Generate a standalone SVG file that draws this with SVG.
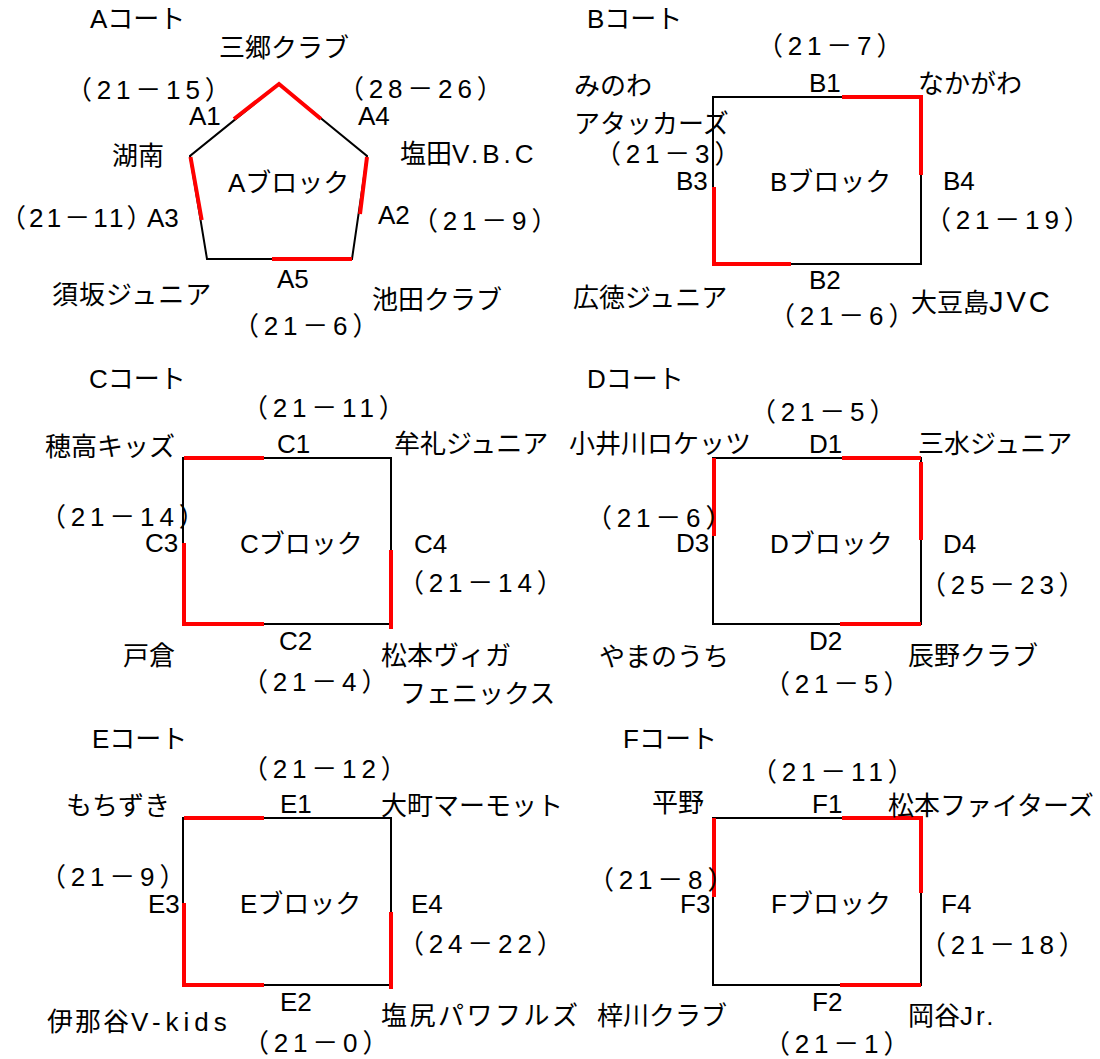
<svg xmlns="http://www.w3.org/2000/svg" width="1100" height="1059" viewBox="0 0 1100 1059">
<style>
text{font-family:"Liberation Sans","Noto Sans CJK JP",sans-serif;font-size:26px;fill:#000}
.s{letter-spacing:4.8px}
.ln{fill:none;stroke:#000;stroke-width:2}
.win{fill:none;stroke:#f00;stroke-width:4}
</style>
<rect width="1100" height="1059" fill="#fff"/>
<g id="connectors">
<polygon class="ln" points="279,84 367,156 352,259 207,259 190,156"/>
<rect class="ln" x="713" y="97" width="208" height="167"/>
<rect class="ln" x="183" y="458" width="208" height="166"/>
<rect class="ln" x="713" y="458" width="208" height="166"/>
<rect class="ln" x="183" y="818" width="208" height="167"/>
<rect class="ln" x="713" y="818" width="208" height="167"/>
<path class="win" d="M234,119 L279,84 L321,119 M190.5,157 L201.7,220 M367,157 L360,214 M272,259 H352"/>
<path class="win" d="M842,97 H921 V175 M714,187 V264 H791"/>
<path class="win" d="M184,458 H264 M184,543 V624 H264 M391,550 V629"/>
<path class="win" d="M842,458 H921 M921,462 V540 M714,458 V536 M840,624 H921"/>
<path class="win" d="M184,818 H264 M184,903 V985 H264 M391,912 V989"/>
<path class="win" d="M842,818 H921 V893 M714,818 V897 M840,985 H921"/>
</g>
<g id="courtA">
<text x="90" y="28">Aコート</text>
<text x="219" y="57">三郷クラブ</text>
<text class="s" x="66" y="99">（21－15）</text>
<text class="s" x="338" y="98">（28－26）</text>
<text x="189" y="125">A1</text>
<text x="358" y="125">A4</text>
<text x="112" y="165">湖南</text>
<text x="400" y="163">塩田<tspan style="letter-spacing:4px">V.B.C</tspan></text>
<text x="228" y="192">Aブロック</text>
<text x="0" y="227"><tspan style="letter-spacing:3.1px">（21－11）</tspan><tspan x="147">A3</tspan></text>
<text x="378" y="224">A2</text>
<text class="s" x="412" y="230">（21－9）</text>
<text x="277" y="288">A5</text>
<text x="52" y="304" style="letter-spacing:1px">須坂ジュニア</text>
<text x="372" y="309">池田クラブ</text>
<text class="s" x="233" y="335">（21－6）</text>
</g>
<g id="courtB">
<text x="587" y="28">Bコート</text>
<text class="s" x="757" y="55">（21－7）</text>
<text x="809" y="92">B1</text>
<text x="574" y="95">みのわ</text>
<text x="918" y="93">なかがわ</text>
<text x="574" y="133">アタッカーズ</text>
<text class="s" x="595" y="163">（21－3）</text>
<text x="676" y="190">B3</text>
<text x="770" y="191">Bブロック</text>
<text x="943" y="190">B4</text>
<text class="s" x="925" y="229">（21－19）</text>
<text x="809" y="289">B2</text>
<text x="573" y="307">広徳ジュニア</text>
<text class="s" x="769" y="325">（21－6）</text>
<text x="911" y="312">大豆島<tspan style="font-size:29px;letter-spacing:3px">JVC</tspan></text>
</g>
<g id="courtC">
<text x="89" y="388">Cコート</text>
<text class="s" x="242" y="417">（21－11）</text>
<text x="45" y="456">穂高キッズ</text>
<text x="277" y="453">C1</text>
<text x="394" y="453">牟礼ジュニア</text>
<text class="s" x="40" y="526">（21－14）</text>
<text x="145" y="552">C3</text>
<text x="240" y="553">Cブロック</text>
<text x="414" y="553">C4</text>
<text class="s" x="398" y="592">（21－14）</text>
<text x="123" y="665">戸倉</text>
<text x="279" y="650">C2</text>
<text x="381" y="665">松本ヴィガ</text>
<text class="s" x="242" y="691">（21－4）</text>
<text x="400" y="703">フェニックス</text>
</g>
<g id="courtD">
<text x="587" y="388">Dコート</text>
<text class="s" x="750" y="421">（21－5）</text>
<text x="569" y="453">小井川ロケッツ</text>
<text x="809" y="453">D1</text>
<text x="918" y="453">三水ジュニア</text>
<text class="s" x="586" y="527">（21－6）</text>
<text x="676" y="552">D3</text>
<text x="770" y="553">Dブロック</text>
<text x="943" y="553">D4</text>
<text class="s" x="920" y="594">（25－23）</text>
<text x="809" y="650">D2</text>
<text x="599" y="666">やまのうち</text>
<text x="908" y="665">辰野クラブ</text>
<text class="s" x="764" y="693">（21－5）</text>
</g>
<g id="courtE">
<text x="92" y="748">Eコート</text>
<text class="s" x="242" y="778">（21－12）</text>
<text x="66" y="815">もちずき</text>
<text x="280" y="813">E1</text>
<text x="381" y="815">大町マーモット</text>
<text class="s" x="40" y="886">（21－9）</text>
<text x="148" y="913">E3</text>
<text x="240" y="913">Eブロック</text>
<text x="411" y="913">E4</text>
<text class="s" x="398" y="953">（24－22）</text>
<text x="280" y="1011">E2</text>
<text x="47" y="1031"><tspan style="letter-spacing:2px">伊那谷</tspan><tspan style="letter-spacing:5px">V-kids</tspan></text>
<text x="381" y="1025" style="letter-spacing:2.5px">塩尻パワフルズ</text>
<text class="s" x="243" y="1052">（21－0）</text>
</g>
<g id="courtF">
<text x="623" y="748">Fコート</text>
<text class="s" x="751" y="781">（21－11）</text>
<text x="652" y="812">平野</text>
<text x="812" y="813">F1</text>
<text x="888" y="815">松本ファイターズ</text>
<text class="s" x="588" y="889">（21－8）</text>
<text x="680" y="913">F3</text>
<text x="771" y="913">Fブロック</text>
<text x="941" y="913">F4</text>
<text class="s" x="920" y="954">（21－18）</text>
<text x="812" y="1011">F2</text>
<text x="597" y="1025">梓川クラブ</text>
<text x="908" y="1025">岡谷<tspan style="letter-spacing:3px">Jr.</tspan></text>
<text class="s" x="764" y="1053">（21－1）</text>
</g>
</svg>
